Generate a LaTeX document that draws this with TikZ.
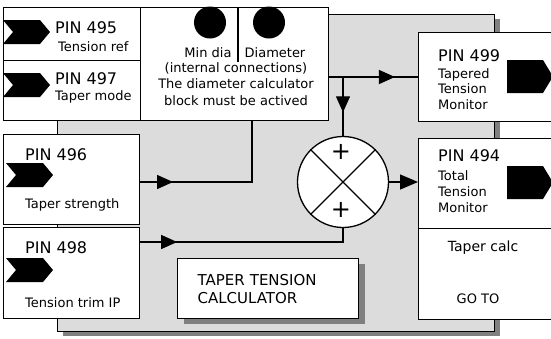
\documentclass[tikz,border=0pt]{standalone}
\usepackage{fontspec}
\setmainfont{DejaVu Sans}
\usetikzlibrary{positioning,arrows.meta,decorations.markings,shadows}
\definecolor{panelgray}{RGB}{220,220,220}
\definecolor{shadegray}{RGB}{128,128,128}

\begin{document}
\begin{tikzpicture}[
  x=1pt,y=-1pt,
  box/.style={rectangle,draw,line width=1.3pt,fill=white,anchor=north west,inner sep=0pt},
  panel/.style={box,fill=panelgray,
                drop shadow={shadow xshift=5pt,shadow yshift=-4pt,fill=shadegray,opacity=1}},
  wire/.style={line width=1.3pt},
  flow/.style={postaction={decorate},decoration={markings,
      mark=at position #1 with {\arrow{Triangle[length=16pt,width=14pt]}}}},
  head/.style={anchor=west,inner sep=0pt,font=\fontsize{16}{18}\selectfont},
  lbl/.style={inner sep=0pt,font=\fontsize{13}{16.5}\selectfont},
  pinin/.pic={\fill (0,0) -- (37,0) -- (47,12) -- (37,24) -- (0,24) -- (10,12) -- cycle;},
  pinout/.pic={\fill (0,0) -- (36,0) -- (46,16.5) -- (36,33) -- (0,33) -- cycle;}
]
\useasboundingbox (0,0) rectangle (551,338);
\clip (0,0) rectangle (551,338);

% grey calculator panel
\node[panel,minimum width=437pt,minimum height=317pt] (calc) at (57,14) {};

% input blocks
\node[box,minimum width=137pt,minimum height=53pt] (p495) at (3,7) {};
\node[box,minimum width=137pt,minimum height=60pt] (p497) at (3,60) {};
\node[box,minimum width=188pt,minimum height=113pt] (diam) at (140,7) {};
\node[box,minimum width=136pt,minimum height=90pt] (p496) at (3,134) {};
\node[box,minimum width=136pt,minimum height=91pt] (p498) at (3,227) {};

% diameter calculator connections
\draw[wire] (238,7) -- (238,62);
\node[circle,fill,inner sep=0pt,minimum size=32pt] (mindot) at (210,22.5) {};
\node[circle,fill,inner sep=0pt,minimum size=32pt] (diadot) at (269,22.5) {};
\node[lbl] (mindia) at (208,53) {Min dia};
\node[lbl] (diatxt) at (275,53) {Diameter};
\node[lbl,align=center] (diamnote) at (236,84)
  {(internal connections)\\The diameter calculator\\block must be actived};

% input pins
\pic at (3,20) {pinin};
\pic at (3,73) {pinin};
\pic at (6,163) {pinin};
\pic at (6,258) {pinin};
\node[head] (h495) at (55,28) {PIN 495};
\node[lbl,anchor=west] (t495) at (58,47) {Tension ref};
\node[head] (h497) at (55,79) {PIN 497};
\node[lbl,anchor=west] (t497) at (55,97) {Taper mode};
\node[head] (h496) at (25,155) {PIN 496};
\node[lbl,anchor=west] (t496) at (25,205) {Taper strength};
\node[head] (h498) at (25,248) {PIN 498};
\node[lbl,anchor=west] (t498) at (25,303) {Tension trim IP};

% summing junction
\node[circle,draw,line width=1.3pt,fill=white,minimum size=91pt] (sum) at (343,182) {};
\draw[wire] (sum.north west) -- (sum.south east);
\draw[wire] (sum.north east) -- (sum.south west);
\node[inner sep=0pt,font=\fontsize{24}{24}\selectfont] (plustop) at (341,152) {+};
\node[inner sep=0pt,font=\fontsize{24}{24}\selectfont] (plusbot) at (341,210) {+};

% output blocks
\node[box,minimum width=150pt,minimum height=89pt] (p499) at (418,32) {};
\node[box,minimum width=150pt,minimum height=90pt] (p494) at (418,138) {};
\node[box,minimum width=150pt,minimum height=91pt] (goto) at (418,228) {};
\pic at (507,60) {pinout};
\pic at (507,166) {pinout};
\node[head] (h499) at (438,56) {PIN 499};
\node[lbl,anchor=west,align=left,font=\fontsize{13}{15.5}\selectfont] (t499) at (438,89) {Tapered\\Tension\\Monitor};
\node[head] (h494) at (438,156) {PIN 494};
\node[lbl,anchor=west,align=left,font=\fontsize{13}{16}\selectfont] (t494) at (438,192) {Total\\Tension\\Monitor};
\node[inner sep=0pt,font=\fontsize{14}{17}\selectfont] (tcalc) at (483,248) {Taper calc};
\node[lbl] (gototxt) at (478,299) {GO TO};

% title block
\node[box,drop shadow={shadow xshift=6pt,shadow yshift=-5pt,fill=shadegray,opacity=1},
      text width=141pt,inner xsep=20pt,minimum height=60pt,align=left,
      font=\fontsize{15}{18}\selectfont] (title) at (177,258) {TAPER TENSION\\CALCULATOR};

% signal lines
\coordinate (tapj) at (343,77);
\coordinate (strj) at (252,182);
\coordinate (trimj) at (343,242);
\draw[wire,flow=0.74] (diam.east |- tapj) -- (p499.west |- tapj);
\draw[wire,flow=0.6] (tapj) -- (sum.north);
\draw[wire,flow=0.19] (p496.east |- strj) -- (strj) -- (strj |- diam.south);
\draw[wire,flow=0.17] (p498.east |- trimj) -- (trimj) -- (sum.south);
\draw[wire,-{Triangle[length=18pt,width=15pt]}] (sum.east) -- (p494.west |- sum.east);
\end{tikzpicture}
\end{document}
